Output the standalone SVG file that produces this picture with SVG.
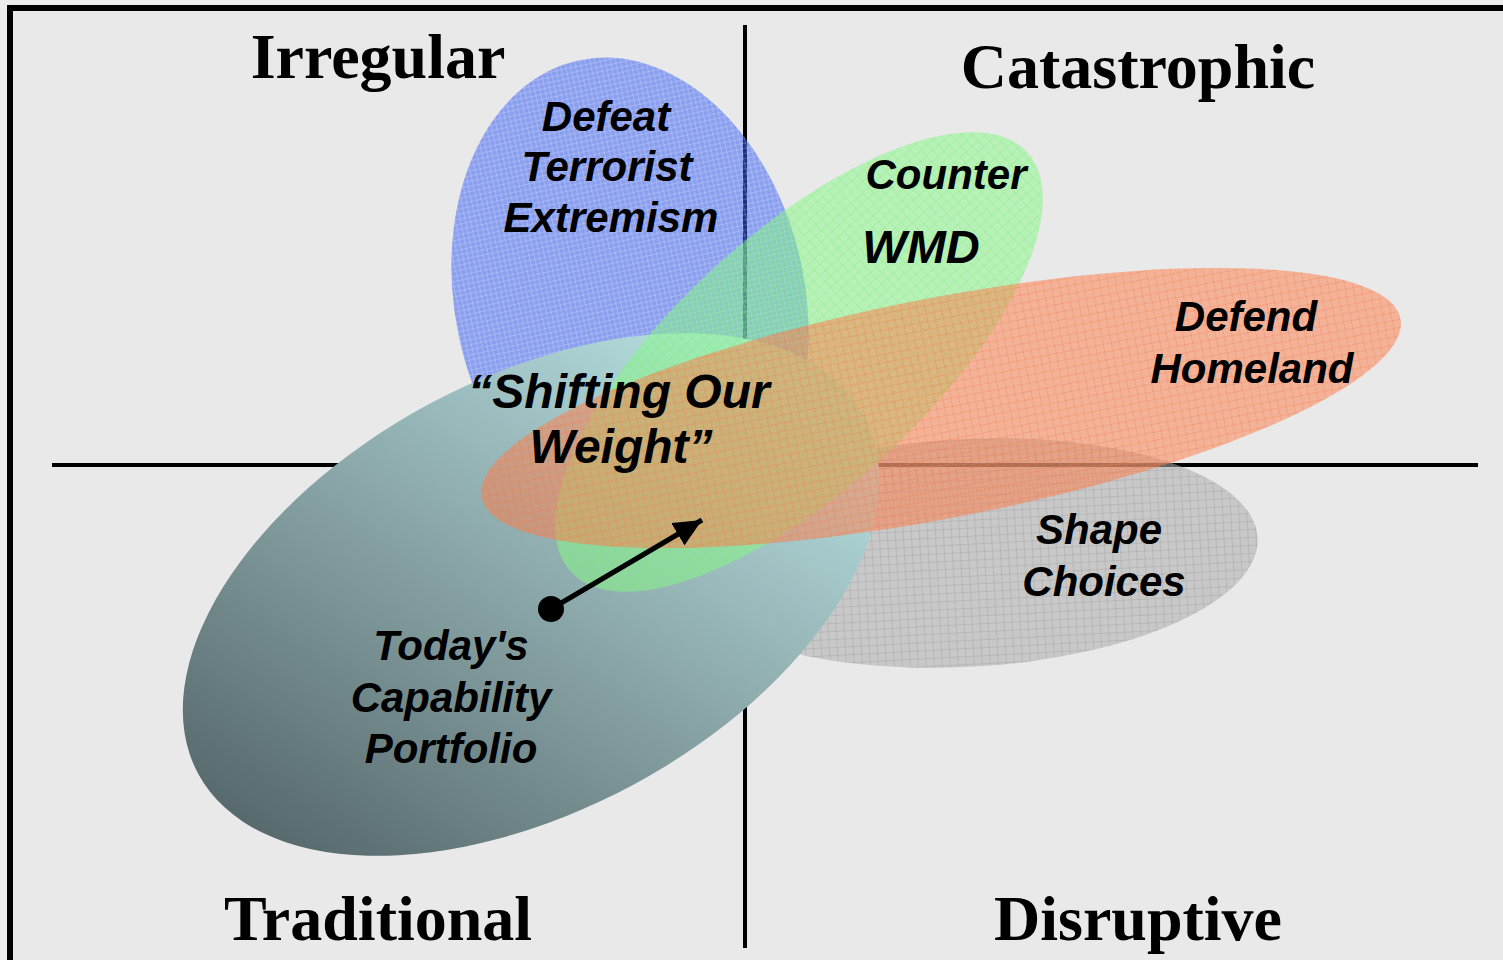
<svg xmlns="http://www.w3.org/2000/svg" width="1503" height="960" viewBox="0 0 1503 960">
  <defs>
    <style>
      .title { font-family: "Liberation Serif", "Times New Roman", serif; font-weight: bold; font-size: 64px; fill: #000; text-anchor: middle; }
      .lbl { font-family: "Liberation Sans", Arial, sans-serif; font-weight: bold; font-style: italic; font-size: 42px; fill: #000; text-anchor: middle; }
      .axis { stroke: #000; stroke-width: 4; fill: none; }
    </style>
    <pattern id="pBlue" width="5" height="5" patternUnits="userSpaceOnUse">
      <rect width="5" height="5" fill="rgb(52,92,245)" fill-opacity="0.52"/>
      <path d="M0 0.5H5M0.5 0V5" stroke="#ffffff" stroke-opacity="0.2" stroke-width="1"/>
    </pattern>
    <pattern id="pGreen" width="8" height="8" patternUnits="userSpaceOnUse">
      <rect width="8" height="8" fill="rgb(136,250,136)" fill-opacity="0.5"/>
      <path d="M0 0.5H8M0.5 0V8" stroke="rgb(120,235,120)" stroke-opacity="0.3" stroke-width="1"/>
    </pattern>
    <pattern id="pOrange" width="8" height="8" patternUnits="userSpaceOnUse">
      <rect width="8" height="8" fill="rgb(255,126,74)" fill-opacity="0.5"/>
      <path d="M0 0.5H8M0.5 0V8" stroke="rgb(240,120,70)" stroke-opacity="0.3" stroke-width="1"/>
    </pattern>
    <pattern id="pGray" width="8" height="8" patternUnits="userSpaceOnUse">
      <rect width="8" height="8" fill="rgb(172,172,172)" fill-opacity="0.55"/>
      <path d="M0 0.5H8M0.5 0V8" stroke="rgb(150,150,150)" stroke-opacity="0.3" stroke-width="1"/>
    </pattern>
    <linearGradient id="gTeal" gradientUnits="userSpaceOnUse" x1="230" y1="800" x2="830" y2="470">
      <stop offset="0" stop-color="#55676a"/>
      <stop offset="0.5" stop-color="#88a3a5"/>
      <stop offset="1" stop-color="#b6dfe0"/>
    </linearGradient>
    <marker id="arrowHead" markerUnits="userSpaceOnUse" markerWidth="30" markerHeight="26" refX="28" refY="13" orient="auto">
      <path d="M0 0 L28 13 L0 26 Z" fill="#000"/>
    </marker>
  </defs>

  <rect x="0" y="0" width="1503" height="960" fill="#ececec"/>
  <g id="frame">
    <rect x="10" y="8" width="1500" height="970" fill="#e9e9e9" stroke="#000" stroke-width="6"/>
  </g>

  <g id="axes">
    <line class="axis" x1="745" y1="25" x2="745" y2="948"/>
    <line class="axis" x1="52" y1="465" x2="1478" y2="465"/>
  </g>

  <g id="defeat-terrorist-extremism">
    <ellipse cx="630" cy="300" rx="175" ry="245" transform="rotate(-12 630 300)" fill="url(#pBlue)"/>
  </g>

  <g id="shape-choices">
    <ellipse cx="965" cy="553" rx="293" ry="114" transform="rotate(-3 965 553)" fill="url(#pGray)"/>
  </g>

  <g id="todays-capability-portfolio">
    <ellipse cx="531" cy="594.5" rx="378" ry="216" transform="rotate(-28.3 531 594.5)" fill="url(#gTeal)"/>
  </g>

  <g id="counter-wmd">
    <ellipse cx="799" cy="362" rx="310" ry="127" transform="rotate(-42.6 799 362)" fill="url(#pGreen)"/>
  </g>

  <g id="defend-homeland">
    <ellipse cx="941" cy="408" rx="468" ry="110" transform="rotate(-11 941 408)" fill="url(#pOrange)"/>
  </g>

  <g id="labels">
    <text class="title" x="378" y="78">Irregular</text>
    <text class="title" x="1138" y="88">Catastrophic</text>
    <text class="title" x="378" y="940">Traditional</text>
    <text class="title" x="1138" y="940">Disruptive</text>

    <text class="lbl" x="606" y="131">Defeat</text>
    <text class="lbl" x="607" y="181">Terrorist</text>
    <text class="lbl" x="611" y="232">Extremism</text>

    <text class="lbl" x="946" y="189">Counter</text>
    <text class="lbl" x="921" y="263" style="font-size:47px">WMD</text>

    <text class="lbl" x="1246" y="331">Defend</text>
    <text class="lbl" x="1252" y="383">Homeland</text>

    <text class="lbl" x="619" y="408" style="font-size:48px">“Shifting Our</text>
    <text class="lbl" x="621" y="463" style="font-size:48px">Weight”</text>

    <text class="lbl" x="1099" y="544">Shape</text>
    <text class="lbl" x="1104" y="596">Choices</text>

    <text class="lbl" x="451" y="660">Today's</text>
    <text class="lbl" x="451" y="712">Capability</text>
    <text class="lbl" x="451" y="763">Portfolio</text>
  </g>

  <g id="connectors">
    <circle cx="551" cy="609" r="13" fill="#000"/>
    <line x1="551" y1="609" x2="702" y2="520" stroke="#000" stroke-width="5" marker-end="url(#arrowHead)"/>
  </g>
</svg>
